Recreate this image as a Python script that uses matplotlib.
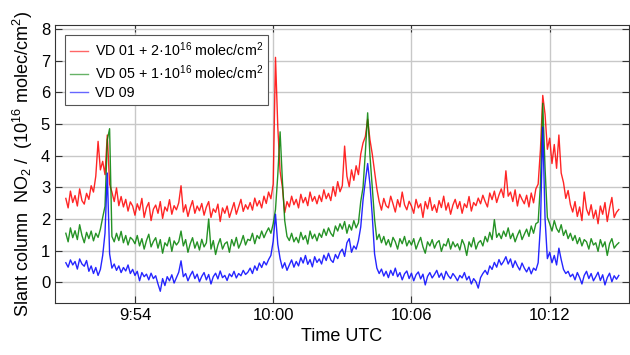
import numpy as np
import matplotlib
matplotlib.use('Agg')
import matplotlib.pyplot as plt

plt.rcParams['font.family'] = ['Liberation Sans', 'DejaVu Sans']
plt.rcParams['mathtext.fontset'] = 'custom'
plt.rcParams['mathtext.rm'] = 'Liberation Sans'
plt.rcParams['mathtext.default'] = 'regular'

# Data: minutes after 09:51 UTC, sampled every 6 s
t_min = np.arange(241) * 0.1

# VD 01 (+2e16 offset already applied)
vd01 = [
    2.65, 2.35, 2.88, 2.52, 2.74, 2.41, 2.95, 2.58, 2.47, 2.81,
    2.62, 3.05, 2.85, 3.35, 4.45, 3.55, 3.82, 3.40, 4.65, 3.10,
    2.85, 2.55, 2.98, 2.42, 2.71, 2.38, 2.62, 2.25, 2.54, 2.41,
    2.12, 2.48, 2.28, 2.65, 2.05, 2.36, 2.52, 1.95, 2.31, 2.44,
    2.18, 2.55, 2.02, 2.38, 2.25, 2.61, 2.15, 2.42, 2.29, 2.51,
    3.05, 2.22, 2.45, 2.08, 2.36, 2.58, 2.18, 2.41, 2.26, 2.49,
    2.12, 2.38, 2.55, 2.05, 2.32, 2.21, 2.47, 1.92, 2.35, 2.18,
    2.41, 2.05, 2.28, 2.52, 2.15, 2.38, 2.62, 2.24, 2.45, 2.31,
    2.52, 2.28, 2.66, 2.41, 2.58, 2.35, 2.72, 2.49, 2.85, 2.64,
    3.10, 7.10, 4.90, 3.50, 3.00, 2.20, 2.55, 2.38, 2.72, 2.45,
    2.62, 2.35, 2.78, 2.51, 2.68, 2.42, 2.85, 2.56, 2.71, 2.48,
    2.75, 2.55, 2.92, 2.64, 2.81, 2.58, 3.02, 2.72, 3.18, 2.86,
    3.05, 4.30, 3.35, 3.02, 3.55, 3.22, 3.68, 3.40, 4.05, 4.40,
    4.60, 5.15, 4.50, 4.05, 3.50, 2.95, 2.55, 2.28, 2.65, 2.42,
    2.35, 2.72, 2.48, 2.22, 2.61, 2.38, 2.85, 2.45, 2.29, 2.56,
    2.41, 2.18, 2.62, 2.35, 2.48, 2.05, 2.55, 2.32, 2.68, 2.27,
    2.45, 2.21, 2.58, 2.36, 2.72, 2.28, 2.51, 2.15, 2.44, 2.62,
    2.33, 2.55, 2.18, 2.48, 2.36, 2.71, 2.25, 2.52, 2.42, 2.66,
    2.48, 2.75, 2.55, 2.38, 2.82, 2.61, 2.88, 2.52, 2.76, 2.95,
    2.68, 3.52, 2.72, 2.85, 2.55, 2.92, 2.41, 2.78, 2.62, 2.48,
    2.75, 2.38, 2.82, 2.51, 2.95, 3.10, 4.20, 5.90, 5.30, 4.20,
    4.55, 3.75, 4.35, 3.60, 4.65, 3.45, 3.15, 2.65, 2.90, 2.45,
    2.22, 2.55, 2.08, 2.38, 1.95, 2.85, 2.31, 2.12, 2.45, 2.02,
    2.28, 1.85, 2.41, 2.15, 2.52, 1.92, 2.35, 2.68, 2.05, 2.21,
    2.30,
]

# VD 05 (+1e16 offset already applied)
vd05 = [
    1.55, 1.28, 1.72, 1.41, 1.63, 1.35, 1.82, 1.48, 1.25, 1.58,
    1.38, 1.62, 1.31, 1.55, 1.42, 1.68, 2.05, 2.40, 4.50, 4.85,
    1.45, 1.28, 1.55, 1.32, 1.61, 1.25, 1.48, 1.18, 1.42, 1.35,
    1.22, 1.48, 1.15, 1.38, 1.05, 1.32, 1.52, 1.12, 1.29, 1.41,
    1.08, 1.35, 0.92, 1.25, 1.15, 1.42, 0.98, 1.31, 1.18, 1.28,
    1.62, 1.15, 1.35, 0.95, 1.22, 1.41, 1.08, 1.28, 1.02, 1.36,
    1.12, 1.25, 2.00, 1.05, 1.32, 0.88, 1.18, 1.38, 1.05, 1.22,
    1.28, 0.95, 1.35, 1.15, 1.42, 1.08, 1.25, 1.48, 1.18, 1.36,
    1.32, 1.55, 1.22, 1.48, 1.38, 1.62, 1.41, 1.58, 1.72, 1.55,
    1.85, 2.30, 3.40, 4.75, 3.20, 1.95, 1.45, 1.32, 1.55, 1.28,
    1.42, 1.25, 1.58, 1.35, 1.48, 1.21, 1.62, 1.38, 1.52, 1.31,
    1.55, 1.42, 1.68, 1.48, 1.72, 1.55, 1.45, 1.78, 1.62, 1.85,
    1.68, 1.92, 1.55, 1.82, 1.65, 1.95, 1.72, 1.88, 2.55, 3.00,
    4.10, 5.35, 4.00, 3.00, 2.00, 1.35, 1.52, 1.25, 1.45, 1.18,
    1.35, 1.12, 1.42, 1.28, 1.05, 1.38, 1.22, 1.45, 1.15, 1.32,
    1.18, 1.38, 1.05, 1.25, 1.42, 1.12, 0.92, 1.28, 1.15, 1.35,
    1.08, 1.25, 1.32, 0.98, 1.21, 1.15, 1.38, 1.05, 1.28, 1.12,
    1.22, 1.02, 1.35, 1.18, 0.85, 1.28, 1.12, 1.41, 1.05, 1.25,
    1.32, 1.15, 1.45, 1.28, 1.58, 1.35, 1.98, 1.42, 1.55, 1.38,
    1.62, 1.45, 1.72, 1.38, 1.55, 1.28, 1.48, 1.65, 1.35, 1.52,
    1.68, 1.45, 1.78, 1.55, 1.85, 1.90, 3.10, 5.65, 3.60, 2.05,
    1.85, 1.62, 1.95, 1.70, 1.58, 1.82, 1.48, 1.65, 1.38, 1.55,
    1.32, 1.48, 1.22, 1.41, 1.15, 1.35, 1.28, 1.05, 1.38, 1.18,
    1.25, 0.98, 1.35, 1.12, 1.28, 0.85, 1.22, 1.38, 1.08, 1.18,
    1.25,
]

# VD 09
vd09 = [
    0.62, 0.48, 0.71, 0.55, 0.66, 0.42, 0.74, 0.58, 0.51, 0.69,
    0.35, 0.52, 0.28, 0.47, 0.22, 0.41, 0.85, 1.55, 3.45, 0.90,
    0.45, 0.58, 0.38, 0.52, 0.31, 0.47, 0.36, 0.55, 0.28, 0.41,
    0.22, 0.35, 0.05, 0.31, 0.18, 0.26, 0.08, 0.29, 0.12, 0.21,
    -0.05, -0.28, 0.12, -0.10, 0.18, 0.05, 0.24, -0.02, 0.15, 0.32,
    0.68, 0.18, 0.28, 0.05, 0.22, 0.35, 0.12, 0.26, 0.02, 0.19,
    0.31, 0.08, 0.25, -0.05, 0.18, 0.29, 0.11, 0.36, 0.15, 0.22,
    0.06, 0.27, 0.18, 0.35, 0.14, 0.28, 0.21, 0.38, 0.25, 0.32,
    0.45, 0.28, 0.52, 0.38, 0.61, 0.47, 0.66, 0.55, 0.72, 0.85,
    1.30, 2.15, 1.20, 0.75, 0.45, 0.62, 0.38, 0.55, 0.71, 0.48,
    0.66, 0.52, 0.78, 0.61, 0.85, 0.57, 0.72, 0.49, 0.81, 0.63,
    0.74, 0.58, 0.86, 0.69, 0.92, 0.71, 0.63, 0.88, 0.75, 0.95,
    1.05, 0.82, 1.25, 1.38, 0.95, 1.15, 1.05, 1.32, 1.75, 2.60,
    3.20, 3.75, 3.10, 2.10, 0.90, 0.45, 0.28, 0.42, 0.20, 0.35,
    0.15, 0.38, 0.22, 0.45, 0.18, 0.31, 0.08, 0.27, 0.36, 0.12,
    0.29, 0.05, 0.24, 0.33, 0.11, 0.26, -0.08, 0.19, 0.31, 0.14,
    0.25, 0.38, 0.16, 0.29, 0.09, 0.35, 0.21, 0.12, 0.28, 0.18,
    0.05, 0.22, 0.14, 0.31, 0.08, 0.19, -0.05, 0.12, 0.02, -0.18,
    0.15, 0.28, 0.38, 0.25, 0.52, 0.41, 0.63, 0.48, 0.72, 0.55,
    0.66, 0.81, 0.58, 0.74, 0.47, 0.68, 0.52, 0.39, 0.61, 0.45,
    0.33, 0.48, 0.27, 0.45, 0.38, 0.62, 1.80, 4.90, 2.00, 0.75,
    0.95, 0.62, 0.85, 0.55, 1.08, 0.72, 0.41, 0.28, 0.35, 0.18,
    0.26, 0.08, 0.31, 0.15, -0.05, 0.22, 0.35, 0.12, 0.28, 0.05,
    0.18, 0.32, 0.06, 0.24, -0.08, 0.15, 0.29, 0.02, 0.21, 0.10,
    0.22,
]

labels = ['VD 01 + 2\u00b710$^{16}$ molec/cm$^2$',
          'VD 05 + 1\u00b710$^{16}$ molec/cm$^2$',
          'VD 09']
colors = ['#ff0000', '#008000', '#0000ff']

tick_pos = [3, 9, 15, 21]
tick_labels = ['9:54', '10:00', '10:06', '10:12']

fig = plt.figure(figsize=(6.3, 3.55), dpi=100)
ax = fig.add_axes([0.0873, 0.1465, 0.911, 0.783])

for y, lab, c in zip([vd01, vd05, vd09], labels, colors):
    ax.plot(t_min, y, color=c, lw=1.0, alpha=0.85, label=lab)

ax.set_xlim(-0.47, 24.44)
ax.set_ylim(-0.65, 8.12)
ax.set_xticks(tick_pos)
ax.set_xticklabels(tick_labels)
ax.set_yticks(range(0, 9))

ax.grid(True, color='#c8c8c8', lw=1.0)
ax.set_axisbelow(True)
ax.tick_params(direction='in', top=True, right=True, length=5,
               labelsize=12, color='#333333')
for s in ax.spines.values():
    s.set_color('#333333')

ax.set_xlabel('Time UTC', fontsize=13)
ax.set_ylabel('Slant column  NO$_2$ /  (10$^{16}$ molec/cm$^2$)', fontsize=13)

leg = ax.legend(loc='upper left', fontsize=10.3, fancybox=False,
                edgecolor='#555555', framealpha=1.0, handlelength=1.25,
                handletextpad=0.5, borderpad=0.35, borderaxespad=0.7,
                labelspacing=0.3)
leg.get_frame().set_linewidth(0.8)
for h in leg.get_lines():
    h.set_alpha(0.6)

fig.savefig('out.png', dpi=100)
